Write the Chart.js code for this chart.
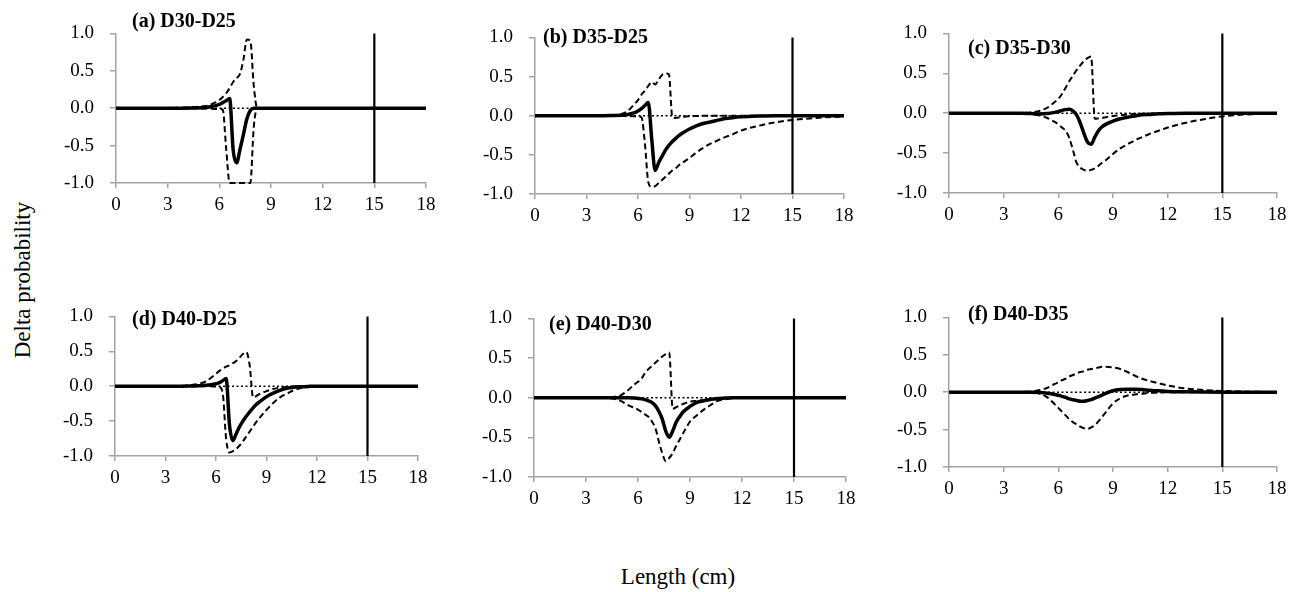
<!DOCTYPE html>
<html><head><meta charset="utf-8">
<script src="https://cdn.jsdelivr.net/npm/chart.js@4.4.1/dist/chart.umd.min.js"></script>
<style>
html,body{margin:0;padding:0;background:#fff;}
#wrap{position:relative;width:1302px;height:592px;overflow:hidden;font-family:"Liberation Serif","Times New Roman",serif;color:#000;}
.pc{position:absolute;}
.ttl{position:absolute;font-weight:bold;font-size:20px;white-space:nowrap;transform:translateY(-50%);}
#ylab{position:absolute;left:23px;top:280px;font-size:23px;transform:translate(-50%,-50%) rotate(-90deg);white-space:nowrap;}
#xlab{position:absolute;left:678px;top:577px;font-size:23px;transform:translate(-50%,-50%);white-space:nowrap;}
</style></head>
<body><div id="wrap"><div id="ylab">Delta probability</div><div id="xlab">Length (cm)</div></div>
<script>
// ---------- DATA ----------
const lengthCm = [0,2,3,3.5,4,4.5,5,5.4,5.8,6,6.2,6.4,6.6,6.8,7,7.2,7.4,7.6,7.8,8,8.2,8.4,8.6,9,9.4,9.8,10.2,10.6,11,11.5,12,13,14,15,16,17,18];
const xTickValues = [0,3,6,9,12,15,18];
const yTickValues = [-1,-0.5,0,0.5,1];
const referenceLength = 15;
const panelTitles = ['(a) D30-D25','(b) D35-D25','(c) D35-D30','(d) D40-D25','(e) D40-D30','(f) D40-D35'];

const aDelta = [0,0,0,0,0,0.002,0.005,0.015,0.035,0.05,0.075,0.1,0.13,-0.55,-0.73,-0.55,-0.35,-0.14,-0.03,0,0,0,0,0,0,0,0,0,0,0,0,0,0,0,0,0,0];
const aUpper = [0,0,0.002,0.005,0.01,0.015,0.025,0.04,0.08,0.11,0.15,0.2,0.27,0.35,0.4,0.46,0.65,0.92,0.9,0.3,0,0,0,0,0,0,0,0,0,0,0,0,0,0,0,0,0];
const aLower = [0,0,0,0,0,0,-0.003,-0.005,-0.01,-0.01,-0.02,-0.55,-1,-1,-1,-1,-1,-1,-1,-0.25,0,0,0,0,0,0,0,0,0,0,0,0,0,0,0,0,0];

const bDelta = [0,0,0,0,0,0.002,0.005,0.015,0.04,0.06,0.09,0.13,0.17,-0.3,-0.7,-0.6,-0.52,-0.44,-0.38,-0.33,-0.29,-0.25,-0.22,-0.17,-0.13,-0.1,-0.08,-0.06,-0.04,-0.025,-0.015,-0.005,0,0,0,0,0];
const bUpper = [0,0,0,0,0.002,0.005,0.02,0.06,0.15,0.2,0.27,0.32,0.38,0.43,0.4,0.46,0.52,0.54,0.53,-0.02,-0.03,-0.02,-0.015,-0.008,-0.004,0,0,0,0,0,0,0,0,0,0,0,0];
const bLower = [0,0,0,0,0,0,0,-0.003,-0.008,-0.01,-0.02,-0.35,-0.85,-0.91,-0.9,-0.86,-0.82,-0.78,-0.74,-0.7,-0.67,-0.63,-0.6,-0.54,-0.47,-0.41,-0.36,-0.32,-0.28,-0.24,-0.19,-0.13,-0.085,-0.055,-0.035,-0.02,-0.01];

const cDelta = [0,0,0,0,0,-0.005,-0.01,-0.005,0.01,0.02,0.035,0.045,0.05,0.03,-0.02,-0.12,-0.25,-0.36,-0.39,-0.3,-0.22,-0.17,-0.14,-0.1,-0.07,-0.05,-0.035,-0.02,-0.015,-0.008,-0.004,0,0,0,0,0,0];
const cUpper = [0,0,0,0,0.003,0.01,0.03,0.07,0.14,0.18,0.24,0.32,0.4,0.47,0.54,0.6,0.65,0.69,0.71,-0.07,-0.065,-0.06,-0.05,-0.035,-0.025,-0.015,-0.01,-0.006,-0.004,-0.002,0,0,0,0,0,0,0];
const cLower = [0,0,0,0,-0.003,-0.01,-0.03,-0.06,-0.11,-0.14,-0.18,-0.22,-0.31,-0.46,-0.62,-0.68,-0.71,-0.72,-0.71,-0.69,-0.66,-0.62,-0.59,-0.51,-0.44,-0.39,-0.34,-0.3,-0.26,-0.22,-0.18,-0.12,-0.075,-0.04,-0.02,-0.01,-0.005];

const dDelta = [0,0,0,0,0,0.003,0.005,0.012,0.025,0.035,0.05,0.08,0.11,-0.55,-0.78,-0.68,-0.58,-0.5,-0.43,-0.37,-0.31,-0.26,-0.22,-0.15,-0.1,-0.06,-0.03,-0.015,-0.008,-0.003,0,0,0,0,0,0,0];
const dUpper = [0,0,0,0,0.005,0.015,0.035,0.07,0.14,0.18,0.22,0.25,0.28,0.3,0.33,0.36,0.41,0.46,0.49,0.3,-0.16,-0.14,-0.11,-0.07,-0.04,-0.02,-0.01,-0.005,0,0,0,0,0,0,0,0,0];
const dLower = [0,0,0,0,0,0,0,0,-0.003,-0.005,-0.01,-0.1,-0.75,-0.95,-0.93,-0.9,-0.85,-0.79,-0.72,-0.65,-0.58,-0.51,-0.45,-0.34,-0.24,-0.16,-0.11,-0.06,-0.03,-0.01,0,0,0,0,0,0,0];

const eDelta = [0,0,0,0,0,0,0,0,-0.005,-0.01,-0.015,-0.025,-0.04,-0.06,-0.1,-0.17,-0.27,-0.42,-0.5,-0.42,-0.31,-0.24,-0.18,-0.11,-0.06,-0.04,-0.02,-0.01,-0.005,0,0,0,0,0,0,0,0];
const eUpper = [0,0,0,0,0.003,0.008,0.03,0.09,0.17,0.2,0.24,0.31,0.36,0.4,0.44,0.48,0.52,0.55,0.57,-0.14,-0.12,-0.1,-0.08,-0.05,-0.04,-0.03,-0.02,-0.012,-0.008,-0.003,0,0,0,0,0,0,0];
const eLower = [0,0,0,0,-0.003,-0.01,-0.04,-0.09,-0.13,-0.15,-0.18,-0.21,-0.24,-0.3,-0.38,-0.55,-0.7,-0.8,-0.76,-0.7,-0.61,-0.53,-0.45,-0.3,-0.22,-0.15,-0.09,-0.04,-0.02,-0.005,0,0,0,0,0,0,0];

const fDelta = [0,0,0,0,0,0,-0.005,-0.015,-0.03,-0.04,-0.055,-0.07,-0.09,-0.1,-0.11,-0.12,-0.12,-0.11,-0.1,-0.08,-0.06,-0.04,-0.015,0.02,0.035,0.04,0.04,0.035,0.025,0.018,0.01,0.005,0.002,0,0,0,0];
const fUpper = [0,0,0,0,0.003,0.01,0.03,0.06,0.11,0.13,0.16,0.18,0.21,0.23,0.25,0.27,0.28,0.3,0.31,0.32,0.33,0.34,0.34,0.33,0.31,0.27,0.22,0.18,0.15,0.12,0.09,0.05,0.03,0.016,0.01,0.005,0.002];
const fLower = [0,0,0,0,0,-0.005,-0.02,-0.07,-0.16,-0.21,-0.26,-0.31,-0.36,-0.4,-0.43,-0.46,-0.48,-0.49,-0.47,-0.44,-0.39,-0.33,-0.27,-0.15,-0.08,-0.045,-0.03,-0.02,-0.01,-0.005,0,0,0,0,0,0,0];

// ---------- LAYOUT (plot-area boxes in page pixels) ----------
const panelBoxes = [
  {L:116,T:18,R:426,B:183, tx:132, ty:20},
  {L:535,T:22,R:844,B:194, tx:543, ty:36},
  {L:949,T:18,R:1277,B:193, tx:968, ty:47},
  {L:115,T:301,R:418,B:456, tx:132, ty:318},
  {L:534,T:303,R:846,B:477, tx:549, ty:323},
  {L:949,T:302,R:1277,B:467, tx:968, ty:313}
];
const panelSeries = [
  [aDelta,aUpper,aLower],[bDelta,bUpper,bLower],[cDelta,cUpper,cLower],
  [dDelta,dUpper,dLower],[eDelta,eUpper,eLower],[fDelta,fUpper,fLower]
];

const FONT = "'Liberation Serif', 'Times New Roman', serif";
const GRAY = '#a3a3a3';
const YW = 60, XH = 40, PT = 12, PR = 16;
const wrap = document.getElementById('wrap');
const pts = arr => lengthCm.map((x,i)=>({x:x, y:arr[i]}));

function build(){
  Chart.defaults.font.family = FONT;
  panelBoxes.forEach((b, k) => {
    const w = b.R - b.L + YW + PR, h = b.B - b.T + PT + XH;
    const cv = document.createElement('canvas');
    cv.className = 'pc';
    cv.width = w; cv.height = h;
    cv.style.left = (b.L - YW) + 'px';
    cv.style.top = (b.T - PT) + 'px';
    cv.style.width = w + 'px'; cv.style.height = h + 'px';
    wrap.appendChild(cv);

    const t = document.createElement('div');
    t.className = 'ttl';
    t.textContent = panelTitles[k];
    t.style.left = b.tx + 'px'; t.style.top = b.ty + 'px';
    wrap.appendChild(t);

    const [delta, upper, lower] = panelSeries[k];
    const common = {pointRadius:0, borderColor:'#000', fill:false, cubicInterpolationMode:'monotone', clip:6};
    new Chart(cv, {
      type:'line',
      data:{datasets:[
        Object.assign({}, common, {label:'ref', data:[{x:referenceLength,y:yTickValues[0]},{x:referenceLength,y:yTickValues[yTickValues.length-1]}], borderWidth:2.2, order:0, cubicInterpolationMode:'default', tension:0}),
        Object.assign({}, common, {label:'delta', data:pts(delta), borderWidth:3.5, order:1}),
        Object.assign({}, common, {label:'upper', data:pts(upper), borderWidth:2, borderDash:[6,3.5], order:2}),
        Object.assign({}, common, {label:'lower', data:pts(lower), borderWidth:2, borderDash:[6,3.5], order:2}),
        Object.assign({}, common, {label:'zero', data:[{x:xTickValues[0],y:0},{x:xTickValues[xTickValues.length-1],y:0}], borderWidth:1.6, borderDash:[2,2.5], order:3, tension:0})
      ]},
      options:{
        responsive:false, animation:false, devicePixelRatio:1,
        layout:{padding:{top:PT,right:PR,left:0,bottom:0}},
        plugins:{legend:{display:false}, tooltip:{enabled:false}},
        scales:{
          x:{type:'linear', min:0, max:18,
            afterBuildTicks:s=>{s.ticks = xTickValues.map(v=>({value:v}));},
            afterFit:s=>{s.height = XH;},
            ticks:{color:'#000', font:{family:FONT,size:19}, padding:6, maxRotation:0, autoSkip:false},
            grid:{drawOnChartArea:false, drawTicks:true, tickLength:5, color:GRAY, lineWidth:1.5},
            border:{color:GRAY, width:1.5}},
          y:{type:'linear', min:-1, max:1,
            afterBuildTicks:s=>{s.ticks = yTickValues.map(v=>({value:v}));},
            afterFit:s=>{s.width = YW;},
            ticks:{color:'#000', font:{family:FONT,size:19}, padding:16, callback:v=>Number(v).toFixed(1)},
            grid:{drawOnChartArea:false, drawTicks:true, tickLength:6, color:GRAY, lineWidth:1.5},
            border:{color:GRAY, width:1.5}}
        }
      }
    });
  });
}
const fontLoad = (document.fonts && document.fonts.load) ? Promise.all([document.fonts.load("19px 'Liberation Serif'"), document.fonts.load("bold 20px 'Liberation Serif'")]) : Promise.resolve();
fontLoad.then(build, build);
</script>
</body></html>
